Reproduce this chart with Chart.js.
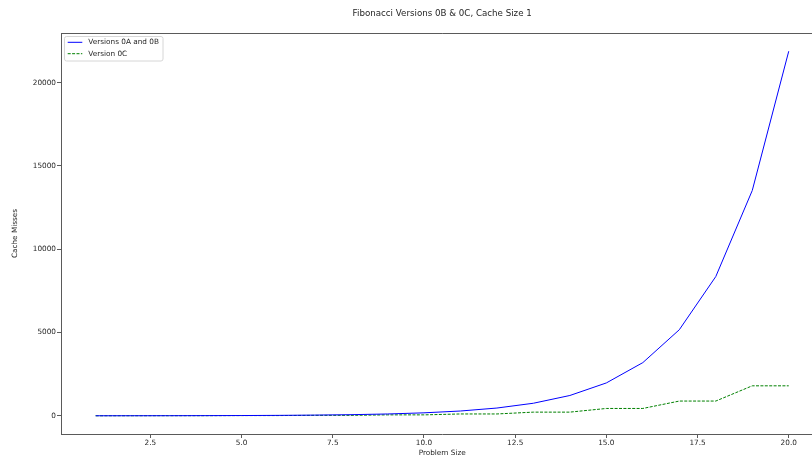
<!DOCTYPE html>
<html>
<head>
<meta charset="utf-8">
<title>Fibonacci Versions 0B &amp; 0C, Cache Size 1</title>
<script src="https://cdn.jsdelivr.net/npm/chart.js@4/dist/chart.umd.min.js"></script>
<style>
  html, body { margin: 0; padding: 0; background: #ffffff; overflow: hidden; }
  #wrap { width: 812px; height: 458px; overflow: hidden; position: relative; }
  canvas { display: block; }
</style>
</head>
<body>
<div id="wrap"><canvas id="chart" width="836" height="458"></canvas></div>
<script>
// Problem sizes run along the x axis
const problemSizes = [1, 2, 3, 4, 5, 6, 7, 8, 9, 10, 11, 12, 13, 14, 15, 16, 17, 18, 19, 20];

// Cache misses per problem size
const missesVersionsAB = [1, 3, 5, 9, 15, 25, 41, 67, 109, 177, 287, 465, 753, 1219, 1973, 3193, 5167, 8361, 13529, 21891];
const missesVersion0C  = [1, 3, 6, 6, 13, 13, 27, 27, 55, 55, 110, 110, 220, 220, 440, 440, 885, 885, 1800, 1800];

// Series names and axis text
const seriesNames = ['Versions 0A and 0B', 'Version 0C'];
const chartTitle = 'Fibonacci Versions 0B & 0C, Cache Size 1';
const xAxisTitle = 'Problem Size';
const yAxisTitle = 'Cache Misses';

// Tick labels
const xTickValues = [2.5, 5.0, 7.5, 10.0, 12.5, 15.0, 17.5, 20.0];
const yTickValues = [0, 5000, 10000, 15000, 20000];

const FONT = '"DejaVu Sans", "Liberation Sans", sans-serif';
const TEXT = '#262626';
const SPINE = '#5a5a5a';

const toPoints = (xs, ys) => xs.map((x, i) => ({ x: x, y: ys[i] }));

// Axis limits with 5% margins around the data
const xLo = Math.min(...problemSizes), xHi = Math.max(...problemSizes);
const yLo = Math.min(...missesVersionsAB, ...missesVersion0C), yHi = Math.max(...missesVersionsAB, ...missesVersion0C);
const xPad = (xHi - xLo) * 0.05, yPad = (yHi - yLo) * 0.05;

// Title, top spine and legend box drawn on top of the plot
const decorations = {
  id: 'decorations',
  afterDraw(chart) {
    const ctx = chart.ctx;
    const area = chart.chartArea;
    ctx.save();

    // top spine
    ctx.strokeStyle = SPINE;
    ctx.lineWidth = 1;
    ctx.beginPath();
    ctx.moveTo(area.left, Math.round(area.top) + 0.5);
    ctx.lineTo(area.right, Math.round(area.top) + 0.5);
    ctx.stroke();

    // title
    ctx.fillStyle = TEXT;
    ctx.font = '8.7px ' + FONT;
    ctx.textAlign = 'center';
    ctx.textBaseline = 'middle';
    ctx.fillText(chartTitle, (area.left + area.right) / 2, 14);

    // legend
    const bx = 64.5, by = 36.5, bw = 98.5, bh = 24.5, r = 2;
    ctx.beginPath();
    ctx.moveTo(bx + r, by);
    ctx.lineTo(bx + bw - r, by);
    ctx.quadraticCurveTo(bx + bw, by, bx + bw, by + r);
    ctx.lineTo(bx + bw, by + bh - r);
    ctx.quadraticCurveTo(bx + bw, by + bh, bx + bw - r, by + bh);
    ctx.lineTo(bx + r, by + bh);
    ctx.quadraticCurveTo(bx, by + bh, bx, by + bh - r);
    ctx.lineTo(bx, by + r);
    ctx.quadraticCurveTo(bx, by, bx + r, by);
    ctx.closePath();
    ctx.fillStyle = 'rgba(255,255,255,0.8)';
    ctx.fill();
    ctx.strokeStyle = '#d6d6d6';
    ctx.lineWidth = 1;
    ctx.stroke();

    const rows = [42.3, 53.7];
    chart.data.datasets.forEach((ds, i) => {
      const y = rows[i];
      ctx.strokeStyle = ds.borderColor;
      ctx.lineWidth = ds.borderWidth;
      ctx.setLineDash(ds.borderDash || []);
      ctx.beginPath();
      ctx.moveTo(67.7, y);
      ctx.lineTo(82.3, y);
      ctx.stroke();
      ctx.setLineDash([]);
      ctx.fillStyle = TEXT;
      ctx.font = '7.3px ' + FONT;
      ctx.textAlign = 'left';
      ctx.textBaseline = 'middle';
      ctx.fillText(ds.label, 88.3, y);
    });

    ctx.restore();
  }
};

new Chart(document.getElementById('chart'), {
  type: 'line',
  data: {
    datasets: [
      {
        label: seriesNames[0],
        data: toPoints(problemSizes, missesVersionsAB),
        borderColor: '#0000ff',
        borderWidth: 1,
        pointRadius: 0,
        tension: 0,
        fill: false
      },
      {
        label: seriesNames[1],
        data: toPoints(problemSizes, missesVersion0C),
        borderColor: '#008000',
        borderWidth: 1,
        borderDash: [3, 1.4],
        pointRadius: 0,
        tension: 0,
        fill: false
      }
    ]
  },
  options: {
    responsive: false,
    devicePixelRatio: 1,
    animation: false,
    layout: { autoPadding: false, padding: { top: 33, right: 12.6, left: 0, bottom: 0 } },
    plugins: {
      legend: { display: false },
      title: { display: false },
      tooltip: { enabled: false }
    },
    scales: {
      x: {
        type: 'linear',
        min: xLo - xPad,
        max: xHi + xPad,
        afterBuildTicks: s => { s.ticks = xTickValues.map(v => ({ value: v })); },
        afterFit: s => { s.height = 24; },
        ticks: {
          autoSkip: false, maxRotation: 0, padding: 1,
          color: TEXT, font: { family: FONT, size: 7.3 },
          callback: v => Number(v).toFixed(1)
        },
        grid: { display: true, drawOnChartArea: false, drawTicks: true, tickLength: 4, color: SPINE },
        border: { display: true, color: SPINE, width: 1 },
        title: {
          display: true, text: xAxisTitle, color: TEXT,
          font: { family: FONT, size: 7.3 }, padding: { top: 0, bottom: 1 }
        }
      },
      y: {
        type: 'linear',
        min: yLo - yPad,
        max: yHi + yPad,
        afterBuildTicks: s => { s.ticks = yTickValues.map(v => ({ value: v })); },
        afterFit: s => { s.width = 61; },
        ticks: {
          autoSkip: false, padding: 1,
          color: TEXT, font: { family: FONT, size: 7.3 },
          callback: v => String(v)
        },
        grid: { display: true, drawOnChartArea: false, drawTicks: true, tickLength: 4, color: SPINE },
        border: { display: true, color: SPINE, width: 1 },
        title: {
          display: true, text: yAxisTitle, color: TEXT,
          font: { family: FONT, size: 7.3 }, padding: { top: 11, bottom: 0 }
        }
      }
    }
  },
  plugins: [decorations]
});
</script>
</body>
</html>
